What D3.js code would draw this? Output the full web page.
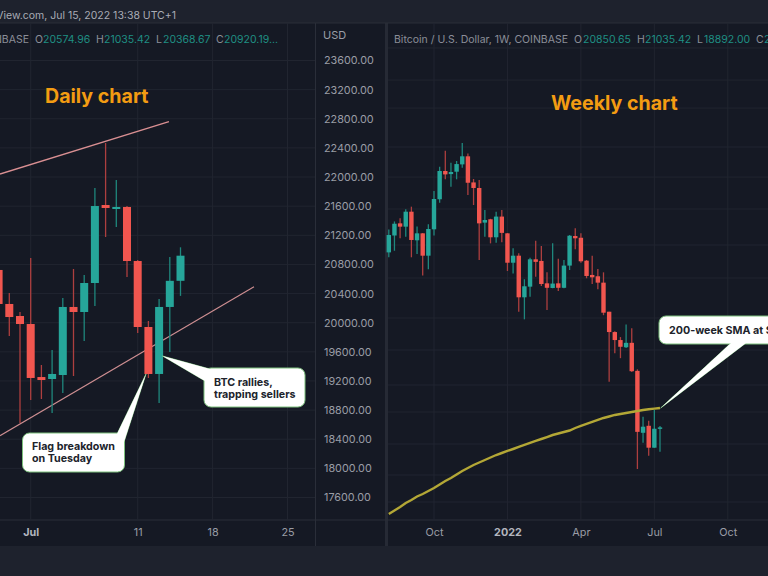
<!DOCTYPE html>
<html>
<head>
<meta charset="utf-8">
<title>BTC daily and weekly chart</title>
<script src="https://cdn.jsdelivr.net/npm/d3@7"></script>
<style>
  html, body { margin: 0; padding: 0; background: #1e222d; overflow: hidden; }
  svg { display: block; }
  text { font-family: Inter, "Noto Sans", sans-serif; }
  .axis path, .axis line { display: none; }
</style>
</head>
<body>
<svg id="chart" width="768" height="576"></svg>
<script>
'use strict';

// Daily chart, day of July 2022 (0 = Jun 30)
var dailyDays  = [-2, -1, 0, 1, 2, 3, 4, 5, 6, 7, 8, 9, 10, 11, 12, 13, 14, 15];
var dailyOpen  = [20724, 20257, 20092, 19982, 19254, 19227, 19282, 20216, 20147, 20545, 21616, 21561, 21589, 20847, 19941, 19296, 20216, 20575];
var dailyHigh  = [20800, 20408, 20147, 20888, 19419, 19625, 20339, 20737, 20655, 21849, 22467, 21959, 21602, 20860, 20023, 20325, 20902, 21035];
var dailyLow   = [20200, 19817, 18623, 18939, 18952, 18760, 19035, 19268, 19749, 20229, 21177, 21314, 20627, 19859, 19241, 18897, 19598, 20368];
var dailyClose = [20257, 20078, 19982, 19241, 19213, 19296, 20216, 20147, 20545, 21602, 21575, 21589, 20847, 19941, 19296, 20216, 20575, 20920];

var dailyTickDays   = [1, 11, 18, 25];
var dailyTickLabels = ['Jul', '11', '18', '25'];
var priceTicks = [23600, 23200, 22800, 22400, 22000, 21600, 21200, 20800, 20400, 20000, 19600, 19200, 18800, 18400, 18000, 17600];

// Flag trend lines: [day, price]
var flagUpper = [[-1.87, 22042], [13.92, 22760]];
var flagLower = [[-1.87, 18449], [21.87, 20494]];

// Weekly chart, one entry a week from Aug 2021
var weeklyOpen  = [43600, 46800, 49250, 48570, 51720, 45870, 47230, 43000, 48035, 54490, 61350, 60560, 61170, 63080, 65250, 58480, 57130, 49400, 50100, 46450, 50670, 47230, 41750, 43000, 36110, 37760, 42350, 42060, 38290, 37550, 38290, 37580, 41250, 46700, 46360, 42110, 39660, 39440, 38400, 33990, 31210, 30180, 29280, 29830, 26520, 20450, 21060, 19210, 20850];
var weeklyHigh  = [48000, 49650, 50300, 52250, 52820, 48580, 47300, 49060, 56410, 62470, 66810, 63520, 63980, 69000, 66060, 59330, 59080, 52090, 50200, 51720, 52090, 47300, 44350, 43450, 38950, 42650, 45790, 44790, 40100, 45320, 42460, 42230, 46900, 48240, 47230, 42230, 43000, 40665, 40100, 34000, 31300, 30560, 32210, 31700, 26690, 21880, 21510, 22500, 21035];
var weeklyLow   = [42700, 43900, 46260, 46570, 42710, 43300, 39560, 40610, 46800, 53700, 59250, 57440, 59250, 62210, 55450, 53190, 42230, 46570, 45280, 45400, 45500, 40320, 39910, 33990, 32920, 36200, 39370, 37860, 34240, 37500, 37080, 37500, 40490, 44170, 41750, 39110, 38180, 37340, 33500, 25340, 28540, 27970, 29200, 26400, 17567, 19610, 18570, 19200, 18892];
var weeklyClose = [46900, 49170, 48570, 51720, 45930, 47230, 43000, 48098, 54551, 61350, 60480, 61090, 63160, 65250, 58400, 57130, 49250, 49950, 46450, 50670, 47320, 41750, 43000, 36110, 37820, 42350, 41900, 38180, 37580, 38250, 37580, 41250, 46760, 46260, 42000, 39490, 39270, 38400, 33850, 31210, 30180, 29340, 29830, 26480, 20530, 20980, 19210, 20800, 20920];
var weeklySma   = [14544, 14759, 14978, 15231, 15424, 15652, 15817, 16018, 16221, 16461, 16704, 16916, 17166, 17420, 17641, 17864, 18053, 18243, 18436, 18630, 18787, 18946, 19105, 19267, 19430, 19593, 19758, 19924, 20091, 20260, 20388, 20517, 20646, 20866, 21043, 21222, 21400, 21580, 21761, 21899, 22039, 22131, 22224, 22318, 22412, 22506, 22572, 22629, 22695];

var weeklyTickWeeks  = [8, 21, 34, 47, 60];
var weeklyTickLabels = ['Oct', '2022', 'Apr', 'Jul', 'Oct'];
var weeklyGridPrices = [102800, 89870, 79910, 67850, 59820, 52300, 44970, 39150, 33100, 28945, 24990, 22310, 19510, 17130, 15295];

var GREEN = '#26a69a', RED = '#f1564f';
var GREEN_WICK = '#1f877d', RED_WICK = '#ad3f3f';
var GRID = '#212530', BORDER = '#2a2e39';
var TOP = 23, AXIS_Y = 520, BOTTOM = 546;

var svg = d3.select('#chart');

// Scales
var xDaily  = d3.scaleLinear().domain([1, 25]).range([30.7, 287.5]);
var yDaily  = d3.scaleLinear().domain([17600, 23600]).range([497.5, 60.5]);
var xWeekly = d3.scaleLinear().domain([0, 48]).range([388.8, 660]);
var yWeekly = d3.scaleLog().domain([17567, 69000]).range([469, 143]);

// Backgrounds
svg.append('rect').attr('width', 768).attr('height', 576).attr('fill', '#1e222d');
svg.append('rect').attr('x', 0).attr('y', TOP).attr('width', 768).attr('height', BOTTOM - TOP).attr('fill', '#151924');
svg.append('rect').attr('x', 385).attr('y', TOP).attr('width', 3).attr('height', BOTTOM - TOP).attr('fill', '#262a35');
svg.append('line').attr('x1', 315.5).attr('x2', 315.5).attr('y1', TOP).attr('y2', BOTTOM).attr('stroke', BORDER);
svg.append('line').attr('x1', 0).attr('x2', 768).attr('y1', AXIS_Y).attr('y2', AXIS_Y).attr('stroke', BORDER);
svg.append('line').attr('x1', 0).attr('x2', 768).attr('y1', TOP).attr('y2', TOP).attr('stroke', BORDER);

// Grid
function hGrid(values, scale, x1, x2) {
  svg.append('g').selectAll('line').data(values).join('line')
    .attr('x1', x1).attr('x2', x2)
    .attr('y1', function(d) { return scale(d); })
    .attr('y2', function(d) { return scale(d); })
    .attr('stroke', GRID);
}
function vGrid(values, scale) {
  svg.append('g').selectAll('line').data(values).join('line')
    .attr('x1', function(d) { return scale(d); })
    .attr('x2', function(d) { return scale(d); })
    .attr('y1', TOP).attr('y2', AXIS_Y)
    .attr('stroke', GRID);
}
hGrid(priceTicks, yDaily, 0, 315);
vGrid(dailyTickDays, xDaily);
hGrid(weeklyGridPrices, yWeekly, 388, 768);
vGrid(weeklyTickWeeks, xWeekly);

// Flag lines go behind the candles
var flagLine = d3.line()
  .x(function(d) { return xDaily(d[0]); })
  .y(function(d) { return yDaily(d[1]); });
svg.append('path').attr('d', flagLine(flagUpper)).attr('fill', 'none').attr('stroke', '#d98f92').attr('stroke-width', 1.4);
svg.append('path').attr('d', flagLine(flagLower)).attr('fill', 'none').attr('stroke', '#cf8f92').attr('stroke-width', 1.1);

function drawCandles(xs, open, high, low, close, x, y, bodyWidth) {
  var rows = xs.map(function(v, i) {
    return { x: v, o: open[i], h: high[i], l: low[i], c: close[i] };
  });
  var g = svg.append('g').selectAll('g').data(rows).join('g');
  g.append('line')
    .attr('x1', function(d) { return x(d.x); })
    .attr('x2', function(d) { return x(d.x); })
    .attr('y1', function(d) { return y(d.h); })
    .attr('y2', function(d) { return y(d.l); })
    .attr('stroke', function(d) { return d.c >= d.o ? GREEN_WICK : RED_WICK; })
    .attr('stroke-width', 1.3);
  g.append('rect')
    .attr('x', function(d) { return x(d.x) - bodyWidth / 2; })
    .attr('width', bodyWidth)
    .attr('y', function(d) { return y(Math.max(d.o, d.c)); })
    .attr('height', function(d) { return Math.max(1.5, Math.abs(y(d.o) - y(d.c))); })
    .attr('fill', function(d) { return d.c >= d.o ? GREEN : RED; });
}

drawCandles(dailyDays, dailyOpen, dailyHigh, dailyLow, dailyClose, xDaily, yDaily, 8);
drawCandles(d3.range(weeklyOpen.length), weeklyOpen, weeklyHigh, weeklyLow, weeklyClose, xWeekly, yWeekly, 4.4);

// 200-week SMA
var smaLine = d3.line()
  .x(function(d, i) { return xWeekly(i); })
  .y(function(d) { return yWeekly(d); });
svg.append('path').attr('d', smaLine(weeklySma)).attr('fill', 'none').attr('stroke', '#b3a736').attr('stroke-width', 2.4);

// Axes
var priceAxis = svg.append('g').attr('class', 'axis').attr('transform', 'translate(324,0)')
  .call(d3.axisRight(yDaily).tickValues(priceTicks).tickSize(0).tickPadding(0).tickFormat(d3.format('.2f')));
var dailyAxis = svg.append('g').attr('class', 'axis').attr('transform', 'translate(0,' + AXIS_Y + ')')
  .call(d3.axisBottom(xDaily).tickValues(dailyTickDays).tickSize(0).tickPadding(8)
    .tickFormat(function(d, i) { return dailyTickLabels[i]; }));
var weeklyAxis = svg.append('g').attr('class', 'axis').attr('transform', 'translate(0,' + AXIS_Y + ')')
  .call(d3.axisBottom(xWeekly).tickValues(weeklyTickWeeks).tickSize(0).tickPadding(8)
    .tickFormat(function(d, i) { return weeklyTickLabels[i]; }));
[priceAxis, dailyAxis, weeklyAxis].forEach(function(a) {
  a.selectAll('text').attr('fill', '#9a9da6').style('font-size', '10.8px').style('font-family', 'Inter, sans-serif');
});
dailyAxis.selectAll('text').filter(function(d) { return d === 1; }).attr('font-weight', 700).attr('fill', '#b2b5be');
weeklyAxis.selectAll('text').filter(function(d) { return d === 21; }).attr('font-weight', 700).attr('fill', '#b2b5be');

function label(x, y, str, fill, size, weight, anchor) {
  return svg.append('text').attr('x', x).attr('y', y).text(str)
    .attr('fill', fill).style('font-size', size + 'px')
    .attr('font-weight', weight || 400).attr('text-anchor', anchor || 'start');
}

label(323, 39, 'USD', '#9a9da6', 11);
label(176, 19, 'TradingView.com, Jul 15, 2022 13:38 UTC+1', '#a9acb5', 10.5, 400, 'end');

// Legend rows
var GREY = '#8b8e98', TEAL = '#1f8f83';
label(29, 43, 'Bitcoin / U.S. Dollar, 1D, COINBASE', GREY, 10.5, 400, 'end');
[[35, 'O'], [96, 'H'], [156, 'L'], [216, 'C']].forEach(function(d) { label(d[0], 43, d[1], GREY, 10.5); });
[[43, '20574.96'], [104, '21035.42'], [163, '20368.67'], [224, '20920.19...']].forEach(function(d) { label(d[0], 43, d[1], TEAL, 10.5); });
label(394, 43, 'Bitcoin / U.S. Dollar, 1W, COINBASE', GREY, 10.5);
[[574, 'O'], [637, 'H'], [697, 'L'], [756, 'C']].forEach(function(d) { label(d[0], 43, d[1], GREY, 10.5); });
[[583, '20850.65'], [645, '21035.42'], [704, '18892.00'], [764, '2']].forEach(function(d) { label(d[0], 43, d[1], TEAL, 10.5); });

// Titles
label(45, 103, 'Daily chart', '#f39c12', 19.6, 700);
label(551, 110, 'Weekly chart', '#f39c12', 19.6, 700);

// Callouts: box plus a pointer that runs into it
function callout(box, tail, lines) {
  var points = tail.join(' ');
  var border = '#7cc07c';
  svg.append('polygon').attr('points', points).attr('fill', '#fff').attr('stroke', border).attr('stroke-width', 0.8);
  svg.append('rect').attr('x', box[0]).attr('y', box[1]).attr('width', box[2]).attr('height', box[3])
    .attr('rx', 7).attr('fill', '#fff').attr('stroke', border);
  svg.append('polygon').attr('points', points).attr('fill', '#fff');
  lines.forEach(function(t) { label(t[0], t[1], t[2], '#20232b', 10.7, 700); });
}
callout([204, 368, 101, 39], [[162.5, 356], [210, 369], [205, 381]],
  [[214, 385.5, 'BTC rallies,'], [214, 397.5, 'trapping sellers']]);
callout([22.5, 433, 102, 39], [[146, 374], [117, 434], [124, 442]],
  [[32, 449.5, 'Flag breakdown'], [32, 461.5, 'on Tuesday']]);
callout([659, 316, 130, 28], [[660.7, 408], [731, 343], [746, 343]],
  [[669, 334, '200-week SMA at $']]);
</script>
</body>
</html>
